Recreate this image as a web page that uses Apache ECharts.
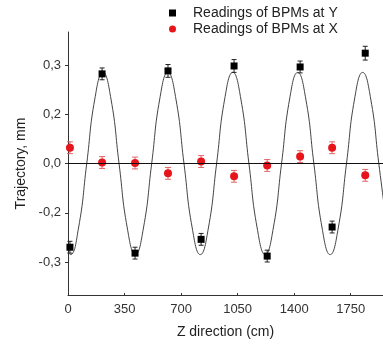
<!DOCTYPE html>
<html>
<head>
<meta charset="utf-8">
<script src="https://cdn.jsdelivr.net/npm/echarts@6/dist/echarts.min.js"></script>
<style>
html,body{margin:0;padding:0;background:#fff;}
#chart{width:383px;height:344px;}
</style>
</head>
<body>
<div id="chart"></div>
<script>
// Tick labels (y positions are in axis tick units; labels as printed on the chart)
var xTickValues = [0, 350, 700, 1050, 1400, 1750];
var yTickValues = [-2, -1, 0, 1, 2];
var yTickLabels = ['-0,3', '-0,2', '0,0', '0,2', '0,3'];

// Readings of BPMs at Y (black squares): z (cm), value, error
var bpmYz   = [12, 211, 415, 619, 824, 1028, 1233, 1437, 1635, 1840];
var bpmYval = [-1.70, 1.82, -1.82, 1.88, -1.54, 1.98, -1.88, 1.96, -1.29, 2.24];
var bpmYerr = [0.12, 0.12, 0.12, 0.13, 0.12, 0.13, 0.12, 0.12, 0.12, 0.14];

// Readings of BPMs at X (red circles)
var bpmXz   = [12, 211, 415, 619, 824, 1028, 1233, 1437, 1635, 1840];
var bpmXval = [0.32, 0.02, 0.01, -0.20, 0.04, -0.26, -0.04, 0.14, 0.32, -0.24];
var bpmXerr = [0.12, 0.12, 0.12, 0.12, 0.12, 0.12, 0.12, 0.12, 0.12, 0.12];

// Fitted trajectory curve
var curveZ = [0, 15, 65, 116, 166, 216, 266, 316, 367, 417, 467, 518, 568, 618, 668, 718, 769, 819, 869, 920, 970, 1020, 1070, 1120, 1171, 1221, 1271, 1322, 1372, 1422, 1472, 1522, 1573, 1623, 1673, 1724, 1774, 1824, 1874, 1924, 1975];
var curveV = [-1.80, -1.85, -1.31, 0, 1.31, 1.85, 1.31, 0, -1.31, -1.85, -1.31, 0, 1.31, 1.85, 1.31, 0, -1.31, -1.85, -1.31, 0, 1.31, 1.85, 1.31, 0, -1.31, -1.85, -1.31, 0, 1.31, 1.85, 1.31, 0, -1.31, -1.85, -1.31, 0, 1.31, 1.85, 1.31, 0, -1.31];

function zip2(a, b) { return a.map(function (v, i) { return [v, b[i]]; }); }
function zip3(a, b, c) { return a.map(function (v, i) { return [v, b[i], c[i]]; }); }

function errRender(color, cap) {
  return function (params, api) {
    var x = api.value(0), y = api.value(1), e = api.value(2);
    var top = api.coord([x, y + e]);
    var bot = api.coord([x, y - e]);
    var st = { stroke: color, lineWidth: 1 };
    return {
      type: 'group',
      children: [
        { type: 'line', shape: { x1: top[0], y1: top[1], x2: bot[0], y2: bot[1] }, style: st },
        { type: 'line', shape: { x1: top[0] - cap, y1: top[1], x2: top[0] + cap, y2: top[1] }, style: st },
        { type: 'line', shape: { x1: bot[0] - cap, y1: bot[1], x2: bot[0] + cap, y2: bot[1] }, style: st }
      ]
    };
  };
}

var FONT = '"Liberation Sans", Arial, sans-serif';
var chart = echarts.init(document.getElementById('chart'), null, { renderer: 'canvas' });
chart.setOption({
  animation: false,
  backgroundColor: '#fff',
  textStyle: { fontFamily: FONT },
  grid: { left: 68, right: 0, top: 32, bottom: 48, containLabel: false },
  legend: {
    orient: 'vertical',
    left: 164,
    top: 1,
    itemWidth: 7,
    itemHeight: 7,
    itemGap: 2,
    textStyle: { fontFamily: FONT, fontSize: 14, color: '#222', padding: [0, 0, 0, 12], lineHeight: 14 },
    data: [
      { name: 'Readings of BPMs at Y', icon: 'rect', itemStyle: { color: '#000', opacity: 1 } },
      { name: 'Readings of BPMs at X', icon: 'circle', itemStyle: { color: '#e8141c', opacity: 1 } }
    ]
  },
  xAxis: {
    type: 'value',
    min: 0,
    max: 1950,
    name: 'Z direction (cm)',
    nameLocation: 'middle',
    nameGap: 30,
    nameTextStyle: { fontFamily: FONT, fontSize: 14, color: '#222' },
    axisLine: { show: true, onZero: false, lineStyle: { color: '#333', width: 1 } },
    axisTick: { show: true, inside: true, length: 2, customValues: xTickValues, lineStyle: { color: '#333' } },
    axisLabel: {
      customValues: xTickValues, fontFamily: FONT, fontSize: 13, color: '#333', margin: 8,
      formatter: function (v) { return String(Math.round(v)); }
    },
    splitLine: { show: false }
  },
  yAxis: {
    type: 'value',
    min: -2.67,
    max: 2.67,
    name: 'Trajectory, mm',
    nameLocation: 'middle',
    nameGap: 35,
    nameTextStyle: { fontFamily: FONT, fontSize: 14, color: '#222' },
    axisLine: { show: true, onZero: false, lineStyle: { color: '#333', width: 1 } },
    axisTick: { show: true, inside: false, length: 3, customValues: yTickValues, lineStyle: { color: '#333' } },
    axisLabel: {
      customValues: yTickValues,
      fontFamily: FONT, fontSize: 13, color: '#333', margin: 7,
      formatter: function (v) {
        var i = yTickValues.indexOf(Math.round(v));
        return i >= 0 ? yTickLabels[i] : '';
      }
    },
    splitLine: { show: false }
  },
  series: [
    {
      name: 'curve',
      type: 'line',
      data: zip2(curveZ, curveV),
      smooth: 0.5,
      showSymbol: false,
      symbol: 'none',
      clip: true,
      lineStyle: { color: '#444', width: 1 },
      markLine: {
        silent: true,
        symbol: 'none',
        label: { show: false },
        lineStyle: { color: '#111', width: 1, type: 'solid' },
        data: [{ yAxis: 0 }]
      },
      z: 1
    },
    {
      name: 'errY',
      type: 'custom',
      data: zip3(bpmYz, bpmYval, bpmYerr),
      renderItem: errRender('#222', 2.5),
      z: 2
    },
    {
      name: 'errX',
      type: 'custom',
      data: zip3(bpmXz, bpmXval, bpmXerr),
      renderItem: errRender('#e06565', 3),
      z: 2
    },
    {
      name: 'Readings of BPMs at Y',
      type: 'scatter',
      symbol: 'rect',
      symbolSize: 7,
      data: zip2(bpmYz, bpmYval),
      itemStyle: { color: '#000', opacity: 1 },
      z: 3
    },
    {
      name: 'Readings of BPMs at X',
      type: 'scatter',
      symbol: 'circle',
      symbolSize: 8,
      data: zip2(bpmXz, bpmXval),
      itemStyle: { color: '#e8141c', opacity: 1 },
      z: 3
    }
  ]
});
</script>
</body>
</html>
